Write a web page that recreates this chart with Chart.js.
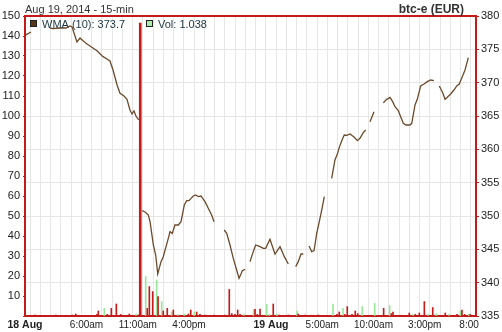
<!DOCTYPE html>
<html><head><meta charset="utf-8">
<script src="https://cdn.jsdelivr.net/npm/chart.js@4"></script>
<style>html,body{margin:0;padding:0;background:#fff;overflow:hidden}canvas{display:block}</style>
</head><body>
<canvas id="c" width="502" height="332"></canvas>
<script>
const chartTitle = 'Aug 19, 2014 - 15-min';
const exchangeLabel = 'btc-e (EUR)';
const priceLegend = 'WMA (10): 373.7';
const volLegend = 'Vol: 1.038';

const xTickHours = [0, 6, 11, 16, 24, 29, 34, 39, 44];
const xTickLabels = ['18 Aug', '6:00am', '11:00am', '4:00pm', '19 Aug', '5:00am', '10:00am', '3:00pm', '8:00pm'];
const xDayLabels = ['18 Aug', '19 Aug'];

// WMA(10) price line, hours since 18 Aug 00:00 (null = gap)
const priceHours = [0.0, 0.59, 0.6,
  2.44, 2.73, 3.41, 4.0, 4.39, 4.59, 5.07, 5.37, 5.66, 6.05, 7.02, 7.61, 8.0, 8.29, 8.59, 8.98, 9.27, 9.66, 9.95, 10.24, 10.44, 10.63, 10.83, 11.02, 11.22, 11.3,
  11.44, 11.71, 12.03, 12.2, 12.52, 12.75, 12.95, 13.27, 13.49, 13.98, 14.15, 14.37, 14.63, 14.96, 15.22, 15.54, 15.78, 16.0, 16.2, 16.42, 16.65, 16.91, 17.17, 17.56, 17.88, 18.21, 18.44, 18.5,
  19.44, 19.68, 20.0, 20.32, 20.65, 20.88, 21.07, 21.2, 21.46, 21.5,
  21.95, 22.27, 22.5, 22.93, 23.25, 23.48, 23.9, 24.39, 24.88, 25.3, 25.69, 25.8,
  26.41, 26.66, 26.93, 27.15, 27.2,
  27.71, 27.97, 28.2, 28.46, 28.78, 29.0, 29.2, 29.3,
  29.92, 30.24, 30.5, 30.66, 31.0, 31.15, 31.39, 31.71, 32.13, 32.42, 32.68, 33.0, 33.24, 33.3,
  33.66, 34.05, 34.1,
  34.96, 35.29, 35.61, 35.87, 36.1, 36.42, 36.65, 36.91, 37.17, 37.56, 37.73, 38.05, 38.27, 38.6, 38.93, 39.25, 39.58, 39.9, 40.0,
  40.42, 40.75, 40.98, 41.2, 41.53, 41.85, 42.12, 42.37, 42.6, 42.93, 43.25];
const priceValues = [377.1, 377.6, null,
  378.2, 378.1, 378.2, 378.2, 378.5, 378.35, 376.1, 376.7, 376.3, 375.8, 374.8, 373.9, 373.55, 373.25, 371.9, 369.65, 368.4, 368.0, 367.5, 365.9, 365.3, 365.75, 365.0, 364.55, 364.4, null,
  350.8, 350.6, 350.15, 349.15, 345.65, 344.15, 341.3, 343.15, 343.9, 346.65, 347.65, 347.4, 348.65, 348.65, 349.15, 351.65, 352.3, 352.3, 352.65, 353.0, 353.15, 352.9, 353.0, 352.15, 351.15, 350.15, 349.15, null,
  347.9, 347.4, 345.65, 343.65, 341.9, 340.65, 341.3, 341.8, 342.0, null,
  343.15, 344.65, 345.65, 345.4, 345.15, 345.15, 346.5, 344.3, 345.4, 343.9, 342.8, null,
  342.4, 343.15, 344.3, 344.3, null,
  345.5, 344.65, 344.8, 347.4, 349.65, 351.3, 352.9, null,
  355.65, 358.4, 359.4, 360.3, 361.65, 362.15, 362.1, 362.3, 361.8, 361.3, 361.65, 362.5, 362.9, null,
  364.15, 365.65, null,
  367.0, 367.5, 367.8, 367.15, 366.4, 365.8, 364.9, 363.9, 363.65, 363.65, 363.9, 366.65, 367.5, 369.5, 369.8, 370.15, 370.4, 370.3, null,
  369.5, 368.5, 367.5, 367.8, 368.3, 368.9, 369.5, 369.8, 370.65, 371.9, 373.75];

// Volume bars (red = down, green = up)
const volRedHours = [0.95, 3.0, 4.61, 4.95, 7.0, 7.15, 8.03, 8.42, 8.91, 9.34, 10.18, 11.05, 11.93, 12.13, 12.46, 12.98, 13.49, 13.88, 14.47,
  15.93, 16.17, 16.75, 17.07, 17.56, 18.44, 19.51, 19.93, 20.17, 20.49, 20.75, 20.98, 22.44, 22.66, 22.93, 24.22, 24.81, 25.69, 26.66, 27.32, 27.97, 28.61,
  30.44, 30.66, 31.19, 31.44, 31.9, 32.22, 32.46, 33.79, 34.99, 35.74, 35.9, 36.61, 37.49, 38.08, 38.47, 38.96, 39.78, 41.0, 42.15, 42.63, 42.9, 43.44];
const volRedValues = [0.5, 0.5, 0.5, 1, 0.8, 2.5, 0.8, 3.8, 6, 0.8, 1, 0.5, 3.8, 14.7, 12.2, 9.7, 2.5, 3.8, 3,
  1, 3, 2, 0.8, 0.5, 0.5, 0.4, 13.3, 1.2, 0.8, 3, 0.8, 3.3, 0.8, 3.5, 6, 0.5, 0.5, 1, 0.5, 0.4, 0.5,
  0.8, 2, 0.8, 4.7, 0.8, 2.5, 1.2, 0.4, 3.8, 1.2, 2, 0.4, 1.5, 0.8, 1.5, 7.2, 4.2, 1.5, 0.8, 3, 0.8, 0.8];
const volGreenHours = [7.64, 10.73, 11.68, 12.75, 13.24, 14.21, 14.8, 15.44, 16.42, 21.24, 22.21, 23.48, 23.74, 24.49, 26.44,
  29.95, 30.93, 32.81, 34.02, 35.48, 37.76, 39.22, 40.03, 41.27, 42.37, 43.19];
const volGreenValues = [3.8, 1, 19.7, 18, 7.2, 2, 0.8, 1, 2, 1, 3, 5.8, 0.8, 1, 2.5,
  6, 3.8, 4.7, 6.3, 5.2, 0.8, 0.8, 1.2, 0.8, 2.5, 1];
const volSpikeHours = [11.44];
const volSpikeValues = [146.5];

const RED = '#c41a1a';
const BROWN = '#6b4a2c';
const GREEN = '#9be69b';
const GRID = '#e6e6e6';
const TXT = '#222';
const FONT = '"Liberation Sans", Arial, sans-serif';

const pts = (xs, ys) => xs.map((x, i) => ({x: x, y: ys[i]}));

const decor = {
  id: 'decor',
  beforeDraw(chart) {
    const c = chart.ctx;
    c.save(); c.fillStyle = '#fff'; c.fillRect(0, 0, chart.width, chart.height); c.restore();
  },
  afterDatasetsDraw(chart) {
    // clip the last x label like the original (right axis labels are drawn afterwards)
    const c = chart.ctx, a = chart.chartArea;
    c.save(); c.fillStyle = '#fff';
    c.fillRect(a.right + 3, a.bottom + 1, chart.width - a.right - 3, chart.height - a.bottom - 1);
    c.restore();
  },
  afterDraw(chart) {
    const c = chart.ctx, a = chart.chartArea;
    c.save();
    c.strokeStyle = RED; c.lineWidth = 2;
    c.beginPath(); c.moveTo(a.left - 1, a.top); c.lineTo(a.right + 1, a.top); c.stroke();
    c.textBaseline = 'alphabetic';
    c.fillStyle = '#333';
    c.font = '11px ' + FONT; c.textAlign = 'left';
    c.fillText(chartTitle, a.left, 12.5);
    c.font = 'bold 12px ' + FONT; c.textAlign = 'right';
    c.fillText(exchangeLabel, 464, 12.5);
    // legend
    c.lineWidth = 1; c.strokeStyle = '#222';
    c.fillStyle = '#5a3614'; c.fillRect(30.5, 20.5, 6, 6); c.strokeRect(30.5, 20.5, 6, 6);
    c.fillStyle = '#a8eba8'; c.fillRect(146.5, 20.5, 6, 6); c.strokeRect(146.5, 20.5, 6, 6);
    c.fillStyle = '#1c3440'; c.font = '11px ' + FONT; c.textAlign = 'left';
    c.fillText(priceLegend, 42, 28);
    c.fillText(volLegend, 158, 28);
    c.restore();
  }
};

new Chart(document.getElementById('c'), {
  data: {
    datasets: [
      { type: 'bar', label: 'Vol spike', data: pts(volSpikeHours, volSpikeValues), yAxisID: 'yVol', xAxisID: 'x',
        backgroundColor: RED, barThickness: 2, order: 0 },
      { type: 'bar', label: 'Vol down', data: pts(volRedHours, volRedValues), yAxisID: 'yVol', xAxisID: 'x',
        backgroundColor: RED, barThickness: 1, order: 1 },
      { type: 'bar', label: 'Vol up', data: pts(volGreenHours, volGreenValues), yAxisID: 'yVol', xAxisID: 'x',
        backgroundColor: GREEN, barThickness: 1, order: 2 },
      { type: 'line', label: 'WMA (10)', data: pts(priceHours, priceValues), yAxisID: 'yPrice', xAxisID: 'x',
        borderColor: BROWN, borderWidth: 1.3, pointRadius: 0, tension: 0, spanGaps: false, order: 3 }
    ]
  },
  options: {
    responsive: false, animation: false, devicePixelRatio: 1,
    layout: { padding: { top: 16, left: 0, right: 0, bottom: 0 } },
    plugins: { legend: { display: false }, tooltip: { enabled: false } },
    events: [],
    scales: {
      x: {
        type: 'linear', min: 0, max: 44, offset: false,
        afterBuildTicks: (s) => {
          const t = [];
          for (let h = 0; h <= 44; h++) t.push({ value: h });
          s.ticks = t;
        },
        afterFit: (s) => { s.height = 16; },
        grid: { color: GRID, lineWidth: 1, drawTicks: false },
        border: { color: RED, width: 2 },
        ticks: {
          autoSkip: false, maxRotation: 0, minRotation: 0, padding: 3, color: TXT,
          callback: (v) => { const i = xTickHours.indexOf(v); return i >= 0 ? xTickLabels[i] : ''; },
          font: (ctx) => {
            const i = ctx.tick ? xTickHours.indexOf(ctx.tick.value) : -1;
            const lab = i >= 0 ? xTickLabels[i] : '';
            return xDayLabels.includes(lab) ? { family: FONT, size: 10.5, weight: 'bold' } : { family: FONT, size: 10, weight: 'normal' };
          }
        }
      },
      yVol: {
        type: 'linear', position: 'left', min: 0, max: 150,
        afterFit: (s) => { s.width = 25; },
        grid: { drawOnChartArea: false, drawTicks: true, tickLength: 2, tickColor: RED },
        border: { color: RED, width: 2 },
        ticks: { stepSize: 10, padding: 3, color: TXT, font: { family: FONT, size: 11 },
          callback: (v) => v === 0 ? '' : String(v) }
      },
      yPrice: {
        type: 'linear', position: 'right', min: 335, max: 380,
        afterFit: (s) => { s.width = 26; },
        grid: { color: GRID, lineWidth: 1, drawTicks: true, tickLength: 3, tickColor: RED },
        border: { color: RED, width: 2 },
        ticks: { stepSize: 5, padding: 2, color: TXT, font: { family: FONT, size: 11 }, z: 1 }
      }
    }
  },
  plugins: [decor]
});
</script>
</body></html>
